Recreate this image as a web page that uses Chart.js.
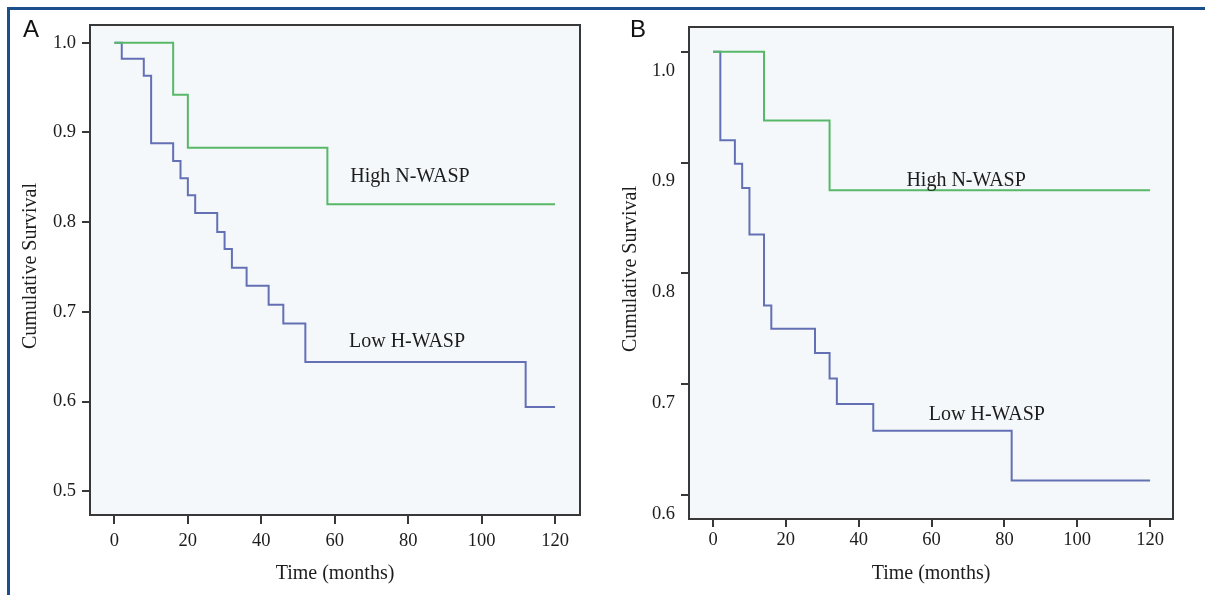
<!DOCTYPE html>
<html><head><meta charset="utf-8">
<script src="https://cdn.jsdelivr.net/npm/chart.js@4.4.1/dist/chart.umd.min.js"></script>
<style>
html,body{margin:0;padding:0;background:#fff;width:1205px;height:595px;overflow:hidden;}
#frame{position:absolute;left:7px;top:7px;width:1198px;height:588px;border-top:3px solid #1b4f8c;border-left:3px solid #1b4f8c;box-sizing:border-box;}
#cA{position:absolute;left:0;top:0;}
#cB{position:absolute;left:600px;top:0;}
</style></head><body>
<div id="frame"></div>
<canvas id="cA" width="600" height="595"></canvas>
<canvas id="cB" width="605" height="595"></canvas>
<script>
// ---- data ----
const xTicks = [0, 20, 40, 60, 80, 100, 120];
const yTicksA = [0.5, 0.6, 0.7, 0.8, 0.9, 1.0];
const yTicksB = [0.6, 0.7, 0.8, 0.9, 1.0];

const highTimesA = [0, 16, 20, 58, 120];
const highSurvA  = [1.0, 0.942, 0.883, 0.820, 0.820];
const lowTimesA  = [0, 2, 8, 10, 16, 18, 20, 22, 28, 30, 32, 36, 42, 46, 52, 112, 120];
const lowSurvA   = [1.0, 0.982, 0.963, 0.888, 0.868, 0.849, 0.830, 0.810, 0.789, 0.770, 0.749, 0.729, 0.708, 0.687, 0.644, 0.594, 0.594];

const highTimesB = [0, 14, 32, 120];
const highSurvB  = [1.0, 0.938, 0.875, 0.875];
const lowTimesB  = [0, 2, 6, 8, 10, 14, 16, 28, 32, 34, 44, 82, 120];
const lowSurvB   = [1.0, 0.920, 0.899, 0.877, 0.835, 0.771, 0.750, 0.728, 0.705, 0.682, 0.658, 0.613, 0.613];

const highLabel = 'High N-WASP';
const lowLabel  = 'Low H-WASP';
const xTitle = 'Time (months)';
const yTitle = 'Cumulative Survival';

// ---- styles ----
const GREEN = '#58b868';
const BLUE  = '#6470b4';
const AXIS  = '#383838';
const TEXT  = '#1c1c1c';
const PLOT_BG = '#f4f8fb';
const SERIF = '"Liberation Serif", "Times New Roman", serif';

function pts(t, s) { return t.map((v, i) => ({ x: v, y: s[i] })); }

function decoPlugin(cfg) {
  return {
    id: 'deco' + cfg.letter,
    beforeDraw(chart) {
      const { ctx, chartArea: a } = chart;
      ctx.save();
      ctx.fillStyle = PLOT_BG;
      ctx.fillRect(a.left, a.top, a.right - a.left, a.bottom - a.top);
      ctx.restore();
    },
    afterDraw(chart) {
      const { ctx, chartArea: a, scales } = chart;
      const x = scales.x, y = scales.y;
      ctx.save();
      ctx.strokeStyle = AXIS; ctx.lineWidth = 2;
      ctx.strokeRect(a.left, a.top, a.right - a.left, a.bottom - a.top);
      ctx.fillStyle = TEXT; ctx.textAlign = 'center'; ctx.textBaseline = 'middle';
      ctx.font = '20px ' + SERIF;
      cfg.notes.forEach(n => ctx.fillText(n.text, x.getPixelForValue(n.x), y.getPixelForValue(n.y)));
      ctx.fillText(xTitle, (a.left + a.right) / 2, cfg.xTitleY);
      ctx.save();
      ctx.translate(cfg.yTitleX, cfg.yTitleY);
      ctx.rotate(-Math.PI / 2);
      ctx.fillText(yTitle, 0, 0);
      ctx.restore();
      ctx.font = '24px "Liberation Sans", Arial, sans-serif';
      ctx.fillStyle = '#111';
      ctx.fillText(cfg.letter, cfg.letterX, cfg.letterY);
      ctx.restore();
    }
  };
}

function makePanel(id, cfg) {
  return new Chart(document.getElementById(id), {
    type: 'line',
    data: {
      datasets: [
        { label: highLabel, data: pts(cfg.highT, cfg.highS), borderColor: GREEN, borderWidth: 2,
          stepped: 'before', pointRadius: 0, fill: false, borderCapStyle: 'butt' },
        { label: lowLabel, data: pts(cfg.lowT, cfg.lowS), borderColor: BLUE, borderWidth: 2,
          stepped: 'before', pointRadius: 0, fill: false, borderCapStyle: 'butt' }
      ]
    },
    options: {
      responsive: false, animation: false, devicePixelRatio: 1,
      layout: { padding: cfg.pad },
      plugins: { legend: { display: false }, tooltip: { enabled: false } },
      scales: {
        x: {
          type: 'linear', min: cfg.xMin, max: cfg.xMax,
          afterBuildTicks: s => { s.ticks = xTicks.map(v => ({ value: v })); },
          afterFit: s => { s.height = cfg.xH; },
          grid: { drawOnChartArea: false, drawTicks: true, tickLength: cfg.xTickLen, color: AXIS, lineWidth: 2 },
          border: { display: false },
          ticks: { font: { family: SERIF, size: 18.5 }, color: TEXT, padding: cfg.xPad,
                   maxRotation: 0, autoSkip: false, callback: v => String(v) }
        },
        y: {
          type: 'linear', min: cfg.yMin, max: cfg.yMax,
          afterBuildTicks: s => { s.ticks = cfg.yTicks.map(v => ({ value: v })); },
          afterFit: s => { s.width = cfg.yW; },
          grid: { drawOnChartArea: false, drawTicks: true, tickLength: 8, color: AXIS, lineWidth: 2 },
          border: { display: false },
          ticks: { font: { family: SERIF, size: 18.5 }, color: TEXT, padding: 6,
                   labelOffset: cfg.yLabelOffset, autoSkip: false, callback: v => Number(v).toFixed(1) }
        }
      }
    },
    plugins: [decoPlugin(cfg)]
  });
}

makePanel('cA', {
  letter: 'A', letterX: 31, letterY: 30,
  highT: highTimesA, highS: highSurvA, lowT: lowTimesA, lowS: lowSurvA,
  yTicks: yTicksA,
  xMin: -6.65, xMax: 126.8, yMin: 0.4735, yMax: 1.0197,
  pad: { left: 0, top: 25, right: 20, bottom: 0 }, yW: 90, xH: 80,
  xTickLen: 9, xPad: 6, yLabelOffset: 0,
  xTitleY: 574, yTitleX: 31, yTitleY: 266,
  notes: [ { text: highLabel, x: 80.5, y: 0.850 }, { text: lowLabel, x: 79.7, y: 0.667 } ]
});

makePanel('cB', {
  letter: 'B', letterX: 38, letterY: 30,
  highT: highTimesB, highS: highSurvB, lowT: lowTimesB, lowS: lowSurvB,
  yTicks: yTicksB,
  xMin: -6.6, xMax: 126.3, yMin: 0.5783, yMax: 1.0223,
  pad: { left: 0, top: 27, right: 32, bottom: 0 }, yW: 89, xH: 76,
  xTickLen: 8, xPad: 2, yLabelOffset: 19,
  xTitleY: 574, yTitleX: 31, yTitleY: 269,
  notes: [ { text: highLabel, x: 69.5, y: 0.884 }, { text: lowLabel, x: 75.2, y: 0.672 } ]
});
</script>
</body></html>
